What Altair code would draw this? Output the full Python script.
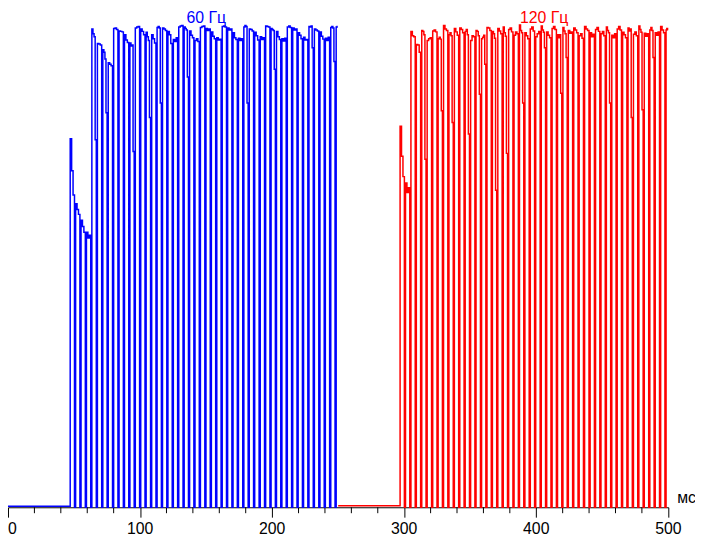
import altair as alt
import pandas as pd

# ---------------- data ----------------
# times in ms, levels in % of full brightness
blue_name = "60 Гц"
red_name = "120 Гц"

blue_start = 0.0
blue_end = 249.6
blue_base = 0.2
blue_rise = [47.1, 51.2, 55.3, 59.4, 63.5, 67.7, 71.8, 75.9, 80.0, 84.1,
             88.2, 92.3, 96.4, 100.5, 104.6, 108.8, 112.9, 117.0, 121.1, 125.2,
             129.3, 133.4, 137.5, 141.6, 145.7, 149.9, 154.0, 158.1, 162.2, 166.3,
             170.4, 174.5, 178.6, 182.7, 186.8, 191.0, 195.1, 199.2, 203.3, 207.4,
             211.5, 215.6, 219.7, 223.8, 227.9, 232.0, 236.2, 240.3, 244.4, 248.5]
blue_levels = [
    [76.1, 69.5, 64.5], [62.7, 61.5, 60.5], [59.3, 58.0, 56.8], [56.8, 55.6, 56.2],
    [98.8, 97.8, 97.2], [95.8, 95.7, 95.5], [94.5, 94.0, 92.6], [91.8, 91.5, 91.2],
    [98.9, 99.0, 98.7], [98.4, 98.3, 98.2], [97.6, 96.5, 96.0], [95.9, 95.3, 95.5],
    [99.0, 99.2, 99.3], [98.8, 98.3, 97.6], [98.1, 97.2, 96.4], [97.6, 96.8, 95.9],
    [99.1, 99.3, 99.0], [99.0, 98.8, 98.5], [98.3, 97.6, 95.8], [96.6, 96.2, 97.0],
    [99.2, 99.4, 99.5], [99.2, 98.9, 98.6], [98.4, 97.5, 97.0], [96.4, 96.8, 96.2],
    [99.1, 99.3, 99.4], [98.9, 98.5, 98.8], [98.2, 97.3, 96.8], [97.0, 96.5, 96.7],
    [99.3, 99.4, 99.2], [99.0, 98.6, 98.8], [98.0, 97.0, 96.6], [96.9, 96.4, 96.8],
    [99.2, 99.5, 99.3], [98.8, 98.7, 98.4], [98.1, 97.4, 96.5], [97.2, 96.6, 97.0],
    [99.4, 99.3, 99.2], [98.9, 98.7, 98.5], [98.3, 97.2, 96.6], [96.8, 96.3, 96.9],
    [99.2, 99.4, 99.1], [99.0, 98.6, 98.8], [98.0, 97.5, 96.8], [97.1, 96.5, 96.6],
    [99.3, 99.2, 99.4], [98.8, 98.6, 98.4], [98.2, 97.3, 96.7], [96.9, 96.4, 97.1],
    [99.1, 99.3, 99.0], [99.2, 99.2, 99.3]]
blue_stub_idx = [5, 7, 12, 15, 17, 22, 33, 38, 45, 49]
blue_stub_lvl = [75.9, 81.5, 73.5, 80.5, 83.5, 88.9, 83.5, 90.5, 94.9, 92.1]

red_start = 250.0
red_end = 500.0
red_base = 0.3
red_rise = [296.9, 301.0, 305.1, 309.2, 313.3, 317.4, 321.6, 325.7, 329.8, 333.9,
            338.0, 342.1, 346.2, 350.3, 354.4, 358.6, 362.7, 366.8, 370.9, 375.0,
            379.1, 383.2, 387.3, 391.4, 395.5, 399.6, 403.8, 407.9, 412.0, 416.1,
            420.2, 424.3, 428.4, 432.5, 436.6, 440.8, 444.9, 449.0, 453.1, 457.2,
            461.3, 465.4, 469.5, 473.6, 477.7, 481.8, 486.0, 490.1, 494.2, 498.3]
red_levels = [
    [78.7, 72.5, 68.3], [67.0, 65.0, 66.0], [98.3, 97.4, 97.2], [95.6, 95.5, 94.0],
    [98.5, 98.3, 97.6], [96.4, 96.8, 97.0], [98.4, 98.6, 98.2], [96.8, 97.1, 96.7],
    [99.5, 98.8, 98.5], [97.6, 98.0, 97.4], [98.9, 98.2, 97.5], [99.0, 98.7, 98.0],
    [98.3, 98.7, 97.6], [96.4, 97.4, 97.2], [98.5, 98.3, 97.4], [96.8, 97.1, 97.5],
    [99.1, 99.0, 98.5], [98.3, 97.8, 96.9], [98.9, 98.4, 97.8], [99.2, 98.0, 97.3],
    [98.7, 99.0, 98.2], [97.5, 98.2, 97.8], [99.6, 98.5, 98.0], [98.0, 97.4, 96.8],
    [98.8, 99.2, 98.4], [97.2, 97.8, 98.3], [99.4, 98.6, 98.1], [98.2, 97.5, 97.0],
    [98.9, 99.3, 98.7], [97.6, 97.0, 97.6], [99.1, 98.4, 97.8], [98.5, 97.9, 98.2],
    [99.0, 98.6, 98.0], [97.4, 97.8, 96.9], [99.3, 98.8, 98.5], [98.0, 97.2, 97.7],
    [98.7, 99.1, 98.3], [97.8, 98.3, 97.4], [99.2, 98.5, 98.0], [97.5, 97.0, 97.8],
    [98.8, 99.3, 98.6], [98.1, 97.6, 97.0], [99.0, 98.4, 98.8], [97.7, 98.2, 97.4],
    [99.4, 98.7, 98.1], [97.9, 97.3, 97.8], [98.6, 99.1, 98.5], [98.0, 97.5, 98.2],
    [99.3, 98.6, 98.0], [98.6, 98.9, 98.7]]
red_stub_idx = [5, 8, 10, 13, 15, 16, 18, 20, 23, 27, 30, 31, 39, 43, 45, 47]
red_stub_lvl = [71.9, 81.9, 79.5, 77.1, 85.3, 91.5, 65.5, 73.1, 83.5, 94.9,
                85.5, 92.9, 83.5, 80.5, 82.1, 92.9]

title_pos = [150.2, 406.0]          # ms, centre of the "60 Гц" / "120 Гц" captions
major_ticks = [0, 100, 200, 300, 400, 500]
minor_ticks = [20, 40, 60, 80, 120, 140, 160, 180, 220, 240, 260, 280,
               320, 340, 360, 380, 420, 440, 460, 480]
unit_label = "мс"

# ---------------- build table ----------------
OFF = 0.85  # dwell of each sampled step at a drop (ms)


def build(name, t0, rises, levels, stub_idx, stub_lvl, t_end, base):
    stubs = dict(zip(stub_idx, stub_lvl))
    pts = [(t0, base)]
    n = len(rises)
    for i in range(n):
        a, b, c = levels[i]
        start = rises[i]
        if i < n - 1:
            end = rises[i + 1] - OFF
            fall = end - OFF if (i + 1) in stubs else end
        else:
            end = t_end
            fall = t_end
        L = fall - start
        pts += [(start, a), (start + L / 3, b), (start + 2 * L / 3, c)]
        if i < n - 1:
            if (i + 1) in stubs:
                pts.append((fall, stubs[i + 1]))
            pts.append((end, 0.0))
        else:
            pts.append((t_end, c))
    return pd.DataFrame({"series": name, "t": [p[0] for p in pts],
                         "v": [p[1] for p in pts], "o": list(range(len(pts)))})


df = pd.concat([
    build(blue_name, blue_start, blue_rise, blue_levels, blue_stub_idx, blue_stub_lvl, blue_end, blue_base),
    build(red_name, red_start, red_rise, red_levels, red_stub_idx, red_stub_lvl, red_end, red_base),
], ignore_index=True)

W, H = 668, 502
FONT = "Liberation Sans"

xs = alt.Scale(domain=[0, 500], nice=False, zero=False)
ys = alt.Scale(domain=[0, 102.5], nice=False)
xaxis = alt.Axis(values=major_ticks, tickSize=10, labels=False, title=None, grid=False,
                 domainColor="black", tickColor="black", domainWidth=1, tickWidth=1)
cs = alt.Scale(domain=[blue_name, red_name], range=["#0000ff", "#ff0000"])

lines = alt.Chart(df).mark_line(interpolate="step-after", strokeWidth=1.5).encode(
    x=alt.X("t:Q", scale=xs, axis=xaxis),
    y=alt.Y("v:Q", scale=ys, axis=None),
    color=alt.Color("series:N", scale=cs, legend=None),
    order="o:Q",
)

titles = alt.Chart(pd.DataFrame({"series": [blue_name, red_name], "t": title_pos})).mark_text(
    font=FONT, fontSize=16, baseline="alphabetic", align="center"
).encode(
    x=alt.X("t:Q", scale=xs, axis=xaxis),
    y=alt.value(12),
    text="series:N",
    color=alt.Color("series:N", scale=cs, legend=None),
)

tick_df = pd.DataFrame({"t": major_ticks, "lab": [str(v) for v in major_ticks]})
labels_c = alt.Chart(tick_df).transform_filter("datum.t > 0").mark_text(
    font=FONT, fontSize=16, baseline="alphabetic", align="center", color="black"
).encode(x=alt.X("t:Q", scale=xs, axis=xaxis), y=alt.value(H + 27), text="lab:N")
labels_0 = alt.Chart(tick_df).transform_filter("datum.t == 0").mark_text(
    font=FONT, fontSize=16, baseline="alphabetic", align="left", color="black"
).encode(x=alt.X("t:Q", scale=xs, axis=xaxis), y=alt.value(H + 27), text="lab:N")

minor = alt.Chart(pd.DataFrame({"t": minor_ticks})).mark_rule(color="black", strokeWidth=1).encode(
    x=alt.X("t:Q", scale=xs, axis=xaxis), y=alt.value(H), y2=alt.value(H + 6)
)

unit = alt.Chart(pd.DataFrame({"lab": [unit_label]})).mark_text(
    font=FONT, fontSize=16, baseline="alphabetic", align="left", color="black"
).encode(x=alt.value(W + 9), y=alt.value(H - 4), text="lab:N")

chart = alt.layer(minor, lines, titles, labels_c, labels_0, unit).properties(
    width=W, height=H,
    autosize=alt.AutoSizeParams(type="none"),
    padding={"left": 0, "top": 0, "right": 27, "bottom": 28},
).configure_view(stroke=None)

chart.save("out.html", embed_options={"renderer": "svg", "actions": False})
